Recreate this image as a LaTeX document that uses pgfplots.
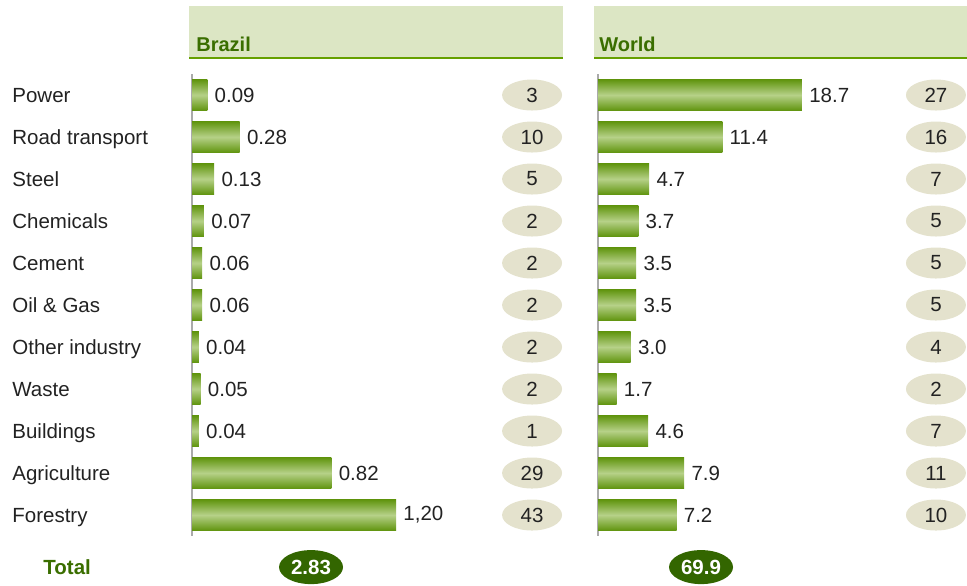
\documentclass[border=0pt]{standalone}
\usepackage{fontspec}
\setmainfont{Liberation Sans}
\usepackage{pgfplots}
\usepackage{pgfplotstable}
\pgfplotsset{compat=1.18}
\usetikzlibrary{shapes.geometric}
\definecolor{hdrfill}{RGB}{220,230,196}
\definecolor{hdrline}{RGB}{102,160,0}
\definecolor{hdrtext}{RGB}{58,110,0}
\definecolor{barDark}{RGB}{96,148,14}
\definecolor{barLight}{RGB}{182,209,136}
\definecolor{pctfill}{RGB}{228,226,205}
\definecolor{totfill}{RGB}{51,102,0}
\definecolor{axisgray}{RGB}{170,170,170}
\definecolor{txt}{RGB}{34,34,34}
\newcommand{\fs}{\fontsize{10.25}{12}\selectfont}

\pgfplotstableread{
row val lab pos pct
0  0.09 0.09 2.0 3
1  0.28 0.28 2.0 10
2  0.13 0.13 2.0 5
3  0.07 0.07 2.0 2
4  0.06 0.06 2.0 2
5  0.06 0.06 2.0 2
6  0.04 0.04 2.0 2
7  0.05 0.05 2.0 2
8  0.04 0.04 2.0 1
9  0.82 0.82 2.0 29
10 1.20 1,20 2.0 43
}\brazil

\pgfplotstableread{
row val lab pos pct
0  18.7 18.7 31.0 27
1  11.4 11.4 31.0 16
2  4.7  4.7  31.0 7
3  3.7  3.7  31.0 5
4  3.5  3.5  31.0 5
5  3.5  3.5  31.0 5
6  3.0  3.0  31.0 4
7  1.7  1.7  31.0 2
8  4.6  4.6  31.0 7
9  7.9  7.9  31.0 11
10 7.2  7.2  31.0 10
}\world

\pgfplotsset{
  panel/.style={
    scale only axis, height=231pt,
    y dir=reverse, ymin=-0.5, ymax=10.5, xmin=0,
    hide x axis, axis y line*=left,
    axis line style={draw=axisgray, line width=1pt},
    major tick length=0pt, clip=false,
    anchor=north west,
  },
  bars/.style={
    xbar, bar shift=0pt, bar width=15.5pt, draw=none,
    top color=barDark, bottom color=barDark, middle color=barLight,
    nodes near coords, point meta=explicit symbolic,
    nodes near coords style={anchor=west, inner sep=0pt, xshift=3.5pt, font=\fs, text=txt},
  },
  pcts/.style={
    draw=none, mark=none, nodes near coords, point meta=explicit symbolic,
    nodes near coords style={ellipse, fill=pctfill, inner sep=0pt,
      minimum width=30pt, minimum height=15.5pt, anchor=center, font=\fs, text=txt},
  },
  tots/.style={
    draw=none, mark=none, nodes near coords, point meta=explicit symbolic,
    nodes near coords style={ellipse, fill=totfill, inner sep=0pt,
      minimum width=32pt, minimum height=17pt, anchor=center,
      font=\fs\bfseries, text=white},
  },
}

\begin{document}
\begin{tikzpicture}
\begin{scope}[x=0.5pt,y=-0.5pt]
\path[use as bounding box] (0,0) rectangle (967,585);
\fill[hdrfill] (189,6) rectangle (563,58);
\draw[hdrline, line width=0.75pt] (189,58) -- (563,58);
\node[anchor=base west, inner sep=0pt, font=\fontsize{10}{12}\selectfont\bfseries, text=hdrtext] at (196,51) {Brazil};
\fill[hdrfill] (594,6) rectangle (967,58);
\draw[hdrline, line width=0.75pt] (594,58) -- (967,58);
\node[anchor=base west, inner sep=0pt, font=\fontsize{10}{12}\selectfont\bfseries, text=hdrtext] at (599,51) {World};
\node[anchor=west, inner sep=0pt, font=\fs\bfseries, text=hdrtext] at (43,567) {Total};
\end{scope}

\begin{axis}[panel, at={(96pt,-37pt)}, width=185.5pt, xmax=2.182,
  ytick={0,...,10},
  yticklabels={Power,Road transport,Steel,Chemicals,Cement,Oil \& Gas,Other industry,Waste,Buildings,Agriculture,Forestry},
  yticklabel style={anchor=west, inner sep=0pt, xshift=-90pt, font=\fs, text=txt,
    text height=0.95em, text depth=0.23em},
]
\pgfplotsinvokeforeach{0,...,10}{
  \addplot[bars, y filter/.expression={abs(y-#1)<0.1 ? y : nan}] table[x=val, y=row, meta=lab] {\brazil};
}
\addplot[pcts] table[x=pos, y=row, meta=pct] {\brazil};
\addplot[tots] coordinates {(0.70,11.24) [2.83]};
\end{axis}

\begin{axis}[panel, at={(299pt,-37pt)}, width=184.5pt, xmax=33.85, ytick=\empty]
\pgfplotsinvokeforeach{0,...,10}{
  \addplot[bars, y filter/.expression={abs(y-#1)<0.1 ? y : nan}] table[x=val, y=row, meta=lab] {\world};
}
\addplot[pcts] table[x=pos, y=row, meta=pct] {\world};
\addplot[tots] coordinates {(9.45,11.24) [69.9]};
\end{axis}
\end{tikzpicture}
\end{document}
